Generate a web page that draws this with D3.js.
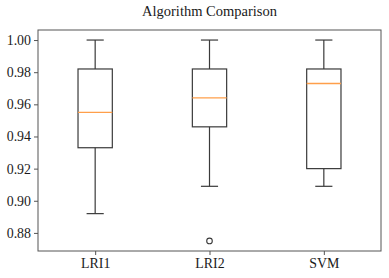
<!DOCTYPE html>
<html><head><meta charset="utf-8">
<script src="https://cdn.jsdelivr.net/npm/d3@7"></script>
<style>body{margin:0;background:#fff}svg{display:block}</style>
</head><body>
<script>
const categories = ["LRI1", "LRI2", "SVM"];
const whiskerLow = [0.892, 0.909, 0.909];
const q1 = [0.933, 0.946, 0.920];
const median = [0.955, 0.964, 0.973];
const q3 = [0.982, 0.982, 0.982];
const whiskerHigh = [1.000, 1.000, 1.000];
const outliers = [[], [0.875], []];
const yTicks = [0.88, 0.90, 0.92, 0.94, 0.96, 0.98, 1.00];

const W = 389, H = 278;
const m = {left: 38, right: 8, top: 30, bottom: 27};
const svg = d3.select("body").append("svg").attr("width", W).attr("height", H);
const font = "'Liberation Serif', 'Times New Roman', serif";

const x = d3.scaleLinear().domain([0.5, 3.5]).range([m.left, W - m.right]);
const y = d3.scaleLinear().domain([0.86875, 1.00625]).range([H - m.bottom, m.top]);

const lineCol = "#3a3a3a";
const boxW = x(1.3) - x(1);
const capW = boxW / 2;

const g = svg.append("g");
categories.forEach((c, i) => {
  const cx = x(i + 1);
  const gg = g.append("g");
  gg.append("line").attr("x1", cx).attr("x2", cx).attr("y1", y(q3[i])).attr("y2", y(whiskerHigh[i])).attr("stroke", lineCol).attr("stroke-width", 1.2);
  gg.append("line").attr("x1", cx).attr("x2", cx).attr("y1", y(q1[i])).attr("y2", y(whiskerLow[i])).attr("stroke", lineCol).attr("stroke-width", 1.2);
  gg.append("line").attr("x1", cx - capW/2).attr("x2", cx + capW/2).attr("y1", y(whiskerHigh[i])).attr("y2", y(whiskerHigh[i])).attr("stroke", lineCol).attr("stroke-width", 1.2);
  gg.append("line").attr("x1", cx - capW/2).attr("x2", cx + capW/2).attr("y1", y(whiskerLow[i])).attr("y2", y(whiskerLow[i])).attr("stroke", lineCol).attr("stroke-width", 1.2);
  gg.append("rect").attr("x", cx - boxW/2).attr("y", y(q3[i])).attr("width", boxW).attr("height", y(q1[i]) - y(q3[i]))
    .attr("fill", "none").attr("stroke", lineCol).attr("stroke-width", 1.2);
  gg.append("line").attr("x1", cx - boxW/2).attr("x2", cx + boxW/2).attr("y1", y(median[i])).attr("y2", y(median[i])).attr("stroke", "#ff9f4a").attr("stroke-width", 1.4);
  gg.selectAll("circle").data(outliers[i]).join("circle")
    .attr("cx", cx).attr("cy", d => y(d)).attr("r", 2.8).attr("fill", "none").attr("stroke", lineCol).attr("stroke-width", 1.1);
});

svg.append("rect").attr("x", m.left).attr("y", m.top).attr("width", W - m.left - m.right).attr("height", H - m.top - m.bottom)
  .attr("fill", "none").attr("stroke", "#555").attr("stroke-width", 1);

const ya = svg.append("g").attr("transform", `translate(${m.left},0)`)
  .call(d3.axisLeft(y).tickValues(yTicks).tickFormat(d3.format(".2f")).tickSize(4).tickPadding(3));
ya.select(".domain").remove();
ya.selectAll("line").attr("stroke", "#555");
ya.selectAll("text").attr("font-family", font).attr("font-size", 13.9).attr("fill", "#1a1a1a");

const xa = svg.append("g").attr("transform", `translate(0,${H - m.bottom})`)
  .call(d3.axisBottom(x).tickValues([1, 2, 3]).tickFormat((d, i) => categories[i]).tickSize(4).tickPadding(3));
xa.select(".domain").remove();
xa.selectAll("line").attr("stroke", "#555");
xa.selectAll("text").attr("font-family", font).attr("font-size", 13.9).attr("fill", "#1a1a1a");

svg.append("text").attr("x", (m.left + W - m.right) / 2).attr("y", 16).attr("text-anchor", "middle")
  .attr("font-family", font).attr("font-size", 14.5).attr("fill", "#1a1a1a").text("Algorithm Comparison");
</script>
</body></html>
